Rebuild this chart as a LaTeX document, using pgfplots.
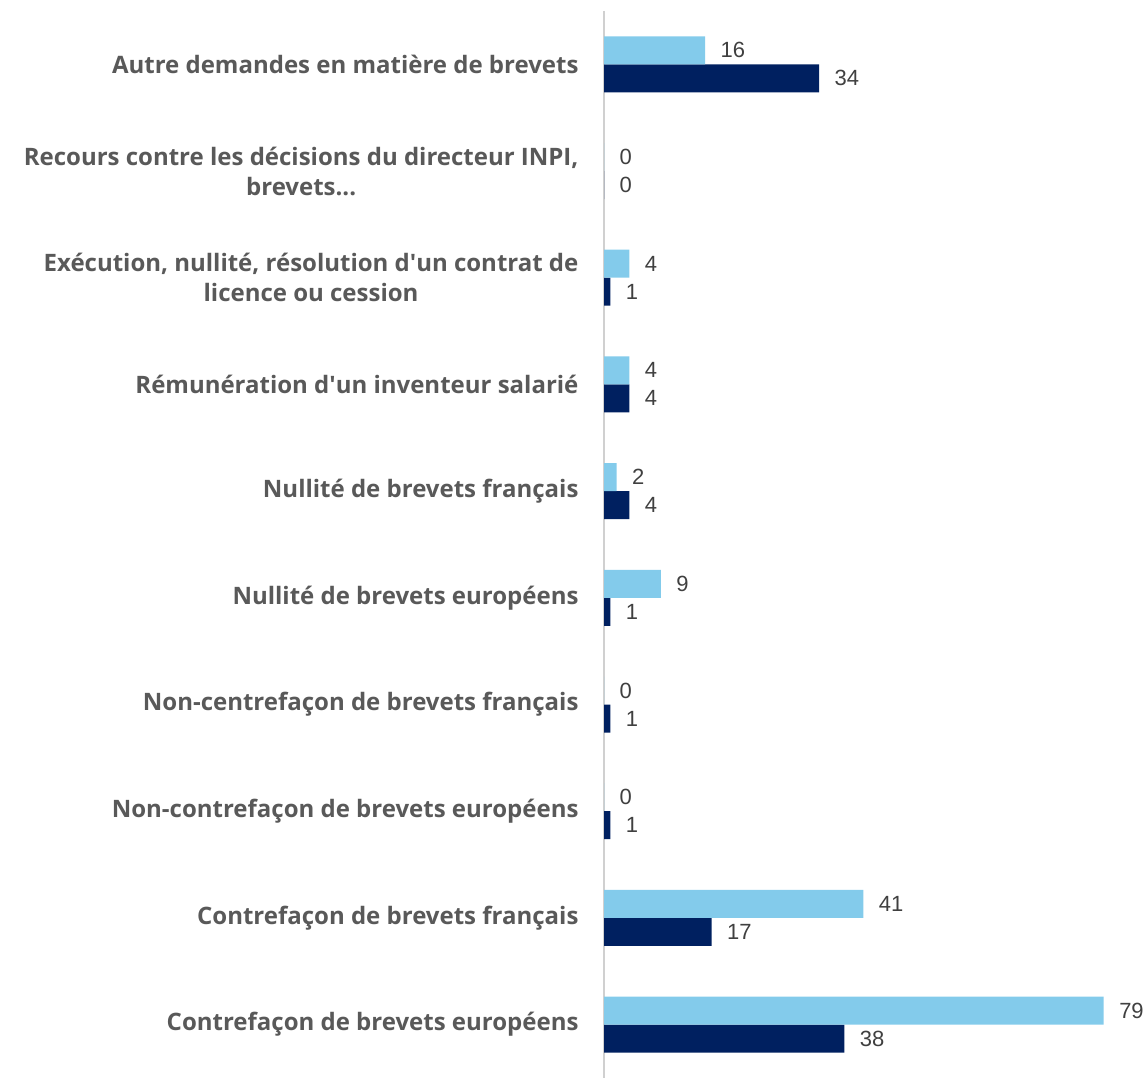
\documentclass[border=0pt]{standalone}
\usepackage{fontspec}
\setmainfont{Liberation Sans}
\newfontfamily\labfont{Open Sans}
\usepackage{pgfplots}
\pgfplotsset{compat=1.18}
\definecolor{lblue}{HTML}{83CBEB}
\definecolor{navy}{HTML}{002060}
\definecolor{lab}{HTML}{595959}
\definecolor{num}{HTML}{404040}
\definecolor{axisgray}{HTML}{D0D0D0}

\begin{document}
\begin{tikzpicture}
\path (0pt,0pt) rectangle (1148pt,1077pt);
\begin{axis}[
    at={(604pt,-1pt)}, anchor=south west,
    scale only axis,
    width=544pt, height=1067pt,
    xbar=0pt, bar width=28pt,
    xmin=0, xmax=86,
    ymin=-0.5, ymax=9.5, y dir=reverse,
    axis x line=none,
    axis y line=left,
    axis line style={draw=axisgray, line width=1.5pt, -},
    ytick={0,1,2,3,4,5,6,7,8,9},
    yticklabels={
        Autre demandes en matière de brevets,
        {Recours contre les décisions du directeur INPI,\\brevets.{}.{}.},
        {Exécution, nullité, résolution d\textquotesingle un contrat de\\licence ou cession},
        Rémunération d\textquotesingle un inventeur salarié,
        Nullité de brevets français,
        Nullité de brevets européens,
        Non-centrefaçon de brevets français,
        Non-contrefaçon de brevets européens,
        Contrefaçon de brevets français,
        Contrefaçon de brevets européens},
    yticklabel style={font=\labfont\fontsize{24}{30}\selectfont\bfseries, text=lab, align=center, xshift=-22pt},
    major tick length=0pt,
    /pgf/number format/assume math mode=true,
    nodes near coords,
    nodes near coords style={font=\fontsize{22}{26}\selectfont, text=num, anchor=west, xshift=12pt},
    clip=false,
]
\addplot[fill=navy, draw=none] coordinates {
    (34,0) (0,1) (1,2) (4,3) (4,4) (1,5) (1,6) (1,7) (17,8) (38,9)};
\addplot[fill=lblue, draw=none] coordinates {
    (16,0) (0,1) (4,2) (4,3) (2,4) (9,5) (0,6) (0,7) (41,8) (79,9)};
\end{axis}
\end{tikzpicture}
\end{document}
